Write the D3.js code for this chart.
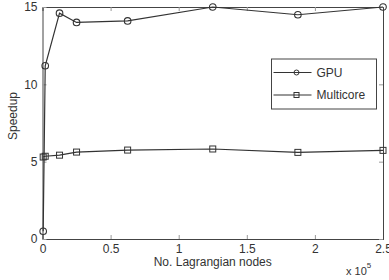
<!DOCTYPE html>
<html>
<head>
<meta charset="utf-8">
<script src="https://cdn.jsdelivr.net/npm/d3@7"></script>
<style>
  body { margin: 0; background: #fff; }
  svg { display: block; font-family: "Liberation Sans", Arial, sans-serif; }
  .tick text { fill: #333; font-size: 12px; }
</style>
</head>
<body>
<svg width="389" height="280"></svg>
<script>
const nodes = [500, 2000, 12500, 25000, 62500, 125000, 187500, 250000];
const gpu = [0.5, 11.2, 14.6, 14.0, 14.1, 15.0, 14.5, 15.0];
const multicore = [5.3, 5.35, 5.42, 5.62, 5.75, 5.82, 5.6, 5.73];
const xTicks = [0, 50000, 100000, 150000, 200000, 250000];
const xTickLabels = ["0", "0.5", "1", "1.5", "2", "2.5"];
const yTicks = [0, 5, 10, 15];

const svg = d3.select("svg"),
  margin = { top: 7, right: 6, bottom: 41, left: 42.5 },
  width = +svg.attr("width") - margin.left - margin.right,
  height = +svg.attr("height") - margin.top - margin.bottom;

const g = svg.append("g")
  .attr("transform", "translate(" + margin.left + "," + margin.top + ")");

const x = d3.scaleLinear().domain([0, 250000]).range([0, width]);
const y = d3.scaleLinear().domain([0, 15]).range([height, 0]);

const axisColor = "#444";

// axes, MATLAB style: ticks point inward, box around
const xAxis = g.append("g")
  .attr("transform", `translate(0,${height})`)
  .call(d3.axisBottom(x).tickValues(xTicks).tickSize(-4).tickPadding(5)
    .tickFormat((d, i) => xTickLabels[i]));
const xTop = g.append("g")
  .call(d3.axisTop(x).tickValues(xTicks).tickSize(-4).tickFormat(""));
const yAxis = g.append("g")
  .call(d3.axisLeft(y).tickValues(yTicks).tickSize(-4).tickPadding(5));
const yRight = g.append("g")
  .attr("transform", `translate(${width},0)`)
  .call(d3.axisRight(y).tickValues(yTicks).tickSize(-4).tickFormat(""));

[xAxis, xTop, yAxis, yRight].forEach(a => {
  a.select(".domain").attr("stroke", axisColor);
  a.selectAll(".tick line").attr("stroke", "#999");
});

g.append("text")
  .attr("x", width / 2)
  .attr("y", height + 27)
  .attr("text-anchor", "middle")
  .attr("fill", "#333")
  .style("font-size", "12px")
  .text("No. Lagrangian nodes");

const exp = g.append("text")
  .attr("x", width - 37)
  .attr("y", height + 36)
  .attr("fill", "#333")
  .style("font-size", "11px");
exp.append("tspan").text("x 10");
exp.append("tspan").attr("dy", -7).style("font-size", "8px").text("5");

g.append("text")
  .attr("transform", "rotate(-90)")
  .attr("x", -109)
  .attr("y", -26)
  .attr("text-anchor", "middle")
  .attr("fill", "#333")
  .style("font-size", "12px")
  .text("Speedup");

const lineColor = "#333";
const line = d3.line()
  .x((d, i) => x(nodes[i]))
  .y(d => y(d));

function drawSeries(values, shape) {
  g.append("path")
    .datum(values)
    .attr("fill", "none")
    .attr("stroke", lineColor)
    .attr("stroke-width", 1.2)
    .attr("d", line);
  const pts = g.selectAll(null).data(values).enter();
  if (shape === "circle") {
    pts.append("circle")
      .attr("cx", (d, i) => x(nodes[i]))
      .attr("cy", d => y(d))
      .attr("r", 3.3)
      .attr("fill", "none")
      .attr("stroke", lineColor)
      .attr("stroke-width", 1.1);
  } else {
    pts.append("rect")
      .attr("x", (d, i) => x(nodes[i]) - 3)
      .attr("y", d => y(d) - 3)
      .attr("width", 6)
      .attr("height", 6)
      .attr("fill", "none")
      .attr("stroke", lineColor)
      .attr("stroke-width", 1);
  }
}

drawSeries(multicore, "square");
drawSeries(gpu, "circle");

// legend
const legend = g.append("g").attr("transform", `translate(${271.5 - margin.left},${59 - margin.top})`);
legend.append("rect")
  .attr("width", 105).attr("height", 50)
  .attr("fill", "#fff").attr("stroke", axisColor);
const items = [["GPU", "circle"], ["Multicore", "square"]];
items.forEach((it, i) => {
  const ly = 13.5 + i * 22.5;
  legend.append("line")
    .attr("x1", 2).attr("x2", 40).attr("y1", ly).attr("y2", ly)
    .attr("stroke", lineColor).attr("stroke-width", 1.2);
  if (it[1] === "circle") {
    legend.append("circle").attr("cx", 25).attr("cy", ly).attr("r", 2.5)
      .attr("fill", "none").attr("stroke", lineColor);
  } else {
    legend.append("rect").attr("x", 22.5).attr("y", ly - 2.5).attr("width", 5).attr("height", 5)
      .attr("fill", "none").attr("stroke", lineColor);
  }
  legend.append("text")
    .attr("x", 45).attr("y", ly + 4)
    .attr("fill", "#333")
    .style("font-size", "12px")
    .text(it[0]);
});
</script>
</body>
</html>
